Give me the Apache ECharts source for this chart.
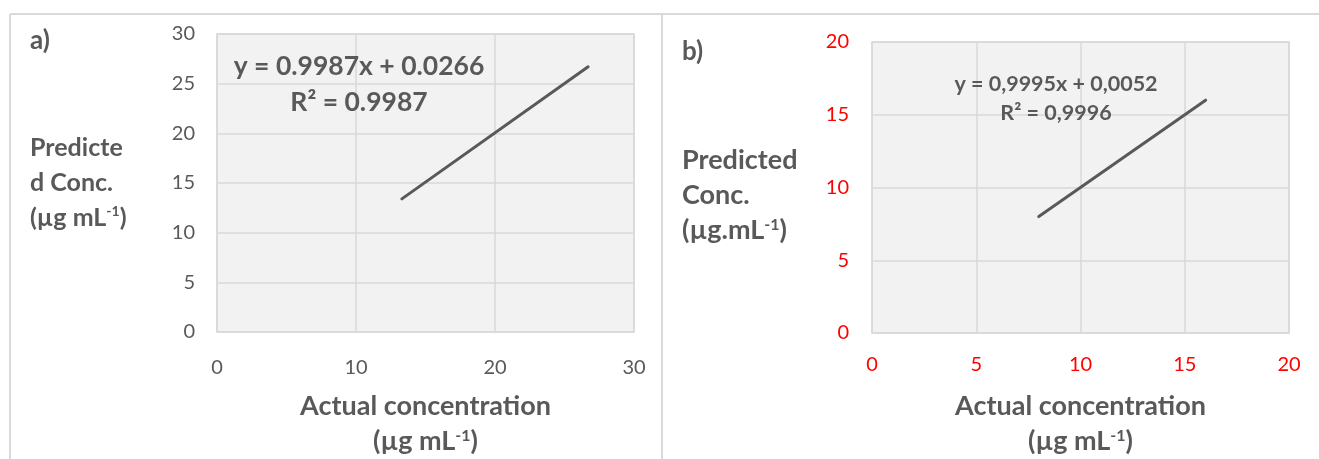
<!DOCTYPE html>
<html>
<head>
<meta charset="utf-8">
<script src="https://cdn.jsdelivr.net/npm/echarts@6/dist/echarts.min.js"></script>
<style>
  html, body { margin: 0; padding: 0; background: #fff; }
  #chart { width: 1319px; height: 459px; }
</style>
</head>
<body>
<div id="chart"></div>
<script>
// Panel a): calibration trend line endpoints (actual vs predicted, µg mL-1)
const actualA = [13.3, 26.7];
const predictedA = [13.4, 26.7];
const equationA = ['y = 0.9987x + 0.0266', 'R² = 0.9987'];

// Panel b)
const actualB = [8.0, 16.0];
const predictedB = [8.0, 16.0];
const equationB = ['y = 0,9995x + 0,0052', 'R² = 0,9996'];

const ticksA = [0, 5, 10, 15, 20, 25, 30];
const ticksB = [0, 5, 10, 15, 20];

const FONT = 'Lato';
const GREY = '#595959';
const GRID_LINE = '#d9d9d9';

function pairs(xs, ys) { return xs.map((x, i) => [x, ys[i]]); }

// rich styles for bold names with a "-1" superscript
function supRich(size) {
  const base = { fontFamily: FONT, fontWeight: 'bold', color: GREY, fill: GREY, lineHeight: 35 };
  return {
    b: Object.assign({}, base, { fontSize: size }),
    s: Object.assign({}, base, { fontSize: Math.round(size * 0.58), verticalAlign: 'top', padding: [4, 0, 0, 0] })
  };
}

function valueAxis(gridIndex, max, interval, color, margin) {
  return {
    type: 'value', gridIndex, min: 0, max, interval,
    axisLine: { show: false }, axisTick: { show: false },
    splitLine: { show: true, lineStyle: { color: GRID_LINE, width: 1.5 } },
    axisLabel: { color, fontFamily: FONT, fontSize: 20, margin }
  };
}

function xName(gap) {
  return {
    name: '{b|Actual concentration}\n{b|(µg mL}{s|-1}{b|)}',
    nameLocation: 'middle',
    nameGap: gap,
    nameTextStyle: { rich: supRich(27), lineHeight: 35 }
  };
}

const chart = echarts.init(document.getElementById('chart'), null, { renderer: 'canvas' });

const gridBase = { show: true, backgroundColor: '#f2f2f2', borderColor: GRID_LINE, borderWidth: 1.5, containLabel: false, outerBoundsMode: 'none' };

const option = {
  backgroundColor: '#ffffff',
  animation: false,
  grid: [
    Object.assign({ left: 217, top: 34, width: 417, height: 298 }, gridBase),
    Object.assign({ left: 872, top: 42, width: 417, height: 291 }, gridBase)
  ],
  xAxis: [
    Object.assign(valueAxis(0, ticksA[ticksA.length - 1], 10, GREY, 26), xName(57)),
    Object.assign(valueAxis(1, ticksB[ticksB.length - 1], 5, '#ff0000', 22), xName(56))
  ],
  yAxis: [
    valueAxis(0, ticksA[ticksA.length - 1], 5, GREY, 22),
    valueAxis(1, ticksB[ticksB.length - 1], 5, '#ff0000', 23)
  ],
  series: [
    {
      type: 'line', xAxisIndex: 0, yAxisIndex: 0,
      data: pairs(actualA, predictedA), showSymbol: false, symbol: 'none',
      lineStyle: { color: GREY, width: 3, cap: 'round' }
    },
    {
      type: 'line', xAxisIndex: 1, yAxisIndex: 1,
      data: pairs(actualB, predictedB), showSymbol: false, symbol: 'none',
      lineStyle: { color: GREY, width: 3, cap: 'round' }
    }
  ],
  graphic: [
    // frame lines
    { type: 'line', shape: { x1: 10, y1: 14, x2: 1319, y2: 14 }, style: { stroke: GRID_LINE, lineWidth: 2 } },
    { type: 'line', shape: { x1: 10, y1: 14, x2: 10, y2: 459 }, style: { stroke: GRID_LINE, lineWidth: 2 } },
    { type: 'line', shape: { x1: 662, y1: 14, x2: 662, y2: 459 }, style: { stroke: GRID_LINE, lineWidth: 2 } },
    // panel letters
    { type: 'text', left: 30, top: 28, style: { text: 'a)', font: 'bold 26px ' + FONT, fill: GREY } },
    { type: 'text', left: 682, top: 39, style: { text: 'b)', font: 'bold 26px ' + FONT, fill: GREY } },
    // y-axis names
    { type: 'text', left: 30, top: 135, style: { text: '{b|Predicte}\n{b|d Conc.}\n{b|(µg mL}{s|-1}{b|)}', rich: supRich(25) } },
    { type: 'text', left: 682, top: 147, style: { text: '{b|Predicted}\n{b|Conc.}\n{b|(µg.mL}{s|-1}{b|)}', rich: supRich(27) } },
    // regression equations
    { type: 'text', x: 359, y: 84, style: { text: equationA.join('\n'), font: 'bold 26.5px ' + FONT, fill: GREY, align: 'center', verticalAlign: 'middle', lineHeight: 36 }, z: 10 },
    { type: 'text', x: 1056, y: 98.5, style: { text: equationB.join('\n'), font: 'bold 21.5px ' + FONT, fill: GREY, align: 'center', verticalAlign: 'middle', lineHeight: 29 }, z: 10 }
  ]
};

chart.setOption(option);
</script>
</body>
</html>
